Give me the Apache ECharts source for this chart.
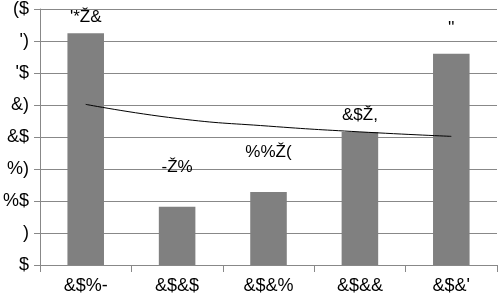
<!DOCTYPE html>
<html>
<head>
<meta charset="utf-8">
<script src="https://cdn.jsdelivr.net/npm/echarts@6/dist/echarts.min.js"></script>
<style>
  html, body { margin: 0; padding: 0; background: #fff; }
  #chart { width: 498px; height: 297px; }
</style>
</head>
<body>
<div id="chart"></div>
<script>
// data
var years = ['2019', '2020', '2021', '2022', '2023'];
var barValues = [36.2, 9.1, 11.4, 20.8, 33];
var trendValues = [25.1, 22.9, 21.7, 20.8, 20.1];
var yTicks = [0, 5, 10, 15, 20, 25, 30, 35, 40];

// label gaps above each bar (style only)
var labelGaps = [8, 31, 31, 8, 17];

// the reference shows its digits through a shifted font: '0' -> '$', '.' -> 'Ž'
function glyphs(s) {
  s = String(s);
  var out = '';
  for (var i = 0; i < s.length; i++) {
    var c = s.charAt(i);
    if (c >= '0' && c <= '9') {
      out += String.fromCharCode(c.charCodeAt(0) - 12);
    } else if (c == '.') {
      out += 'Ž';
    } else {
      out += c;
    }
  }
  return out;
}

var chart = echarts.init(document.getElementById('chart'), null, { renderer: 'canvas' });

var barData = [];
for (var i = 0; i < barValues.length; i++) {
  barData.push({
    value: barValues[i],
    label: { distance: labelGaps[i] }
  });
}

var font = 'Liberation Sans, Arial, sans-serif';

var option = {
  animation: false,
  grid: { left: 35, right: 1, top: 9, bottom: 32 },
  xAxis: {
    type: 'category',
    data: years,
    axisLine: { lineStyle: { color: '#888', width: 1 } },
    axisTick: { show: true, length: 7, lineStyle: { color: '#888' } },
    axisLabel: {
      color: '#000', fontSize: 18, fontFamily: font,
      margin: 12,
      formatter: function (v) { return glyphs(v); }
    }
  },
  yAxis: {
    type: 'value',
    min: yTicks[0],
    max: yTicks[yTicks.length - 1],
    interval: 5,
    axisLine: { show: true, lineStyle: { color: '#888', width: 1 } },
    axisTick: { show: true, length: 6, lineStyle: { color: '#888' } },
    splitLine: { lineStyle: { color: '#888', width: 1 } },
    axisLabel: {
      color: '#000', fontSize: 18, fontFamily: font,
      margin: 11,
      formatter: function (v) { return glyphs(v); }
    }
  },
  series: [
    {
      type: 'bar',
      data: barData,
      barWidth: '40%',
      itemStyle: { color: '#808080' },
      label: {
        show: true,
        position: 'top',
        color: '#000',
        fontSize: 17,
        fontFamily: font,
        formatter: function (p) { return glyphs(p.value); }
      }
    },
    {
      type: 'line',
      data: trendValues,
      smooth: true,
      symbol: 'none',
      lineStyle: { color: '#000', width: 1 },
      z: 5
    }
  ]
};

chart.setOption(option);
</script>
</body>
</html>
